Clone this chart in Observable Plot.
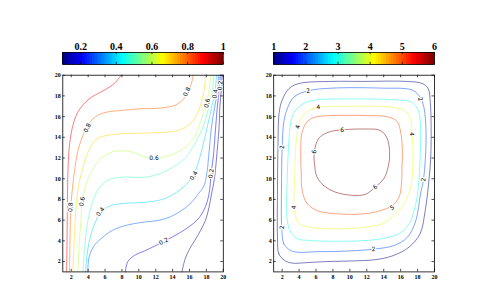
<!DOCTYPE html>
<html><head><meta charset="utf-8">
<script src="https://cdn.jsdelivr.net/npm/d3@7"></script>
<script src="https://cdn.jsdelivr.net/npm/@observablehq/plot@0.6"></script>
<style>
html,body{margin:0;padding:0;background:#fff;}
#wrap{position:relative;width:480px;height:306px;background:#fff;overflow:hidden;}
#wrap svg{position:absolute;top:0;}
</style></head>
<body><div id="wrap"></div>
<script>
// ---------- data ----------
const xTicks = [2,4,6,8,10,12,14,16,18,20];
const yTicks = [2,4,6,8,10,12,14,16,18,20];
const leftBarTicks = [0.2,0.4,0.6,0.8,1];
const rightBarTicks = [1,2,3,4,5,6];
const leftRange = [0.1,1];
const rightRange = [1,6];

const leftLevels = [0.1,0.2,0.3,0.4,0.5,0.6,0.7,0.8,0.9];
const L01 = [[15.1,1],[15.5,2.3],[16.0,3.2],[16.6,4.0],[17.3,5.0],[17.9,6.0],[18.3,7.2],[18.6,8.5],[18.95,10],[19.2,12],[19.5,15],[19.6,17],[19.75,18.5],[19.86,20]];
const L02 = [[8.4,1],[8.7,2.0],[9.5,2.6],[10.8,3.07],[12.95,3.94],[14.9,4.8],[16.0,5.4],[16.9,6.0],[17.6,6.8],[18.1,7.8],[18.4,9.0],[18.55,10.5],[18.8,12],[19.1,15],[19.3,17],[19.5,18.5],[19.66,20]];
const L03 = [[3.96,1],[4.1,2.4],[4.6,3.4],[5.3,4.05],[6.85,5.0],[8.5,5.5],[10.5,5.8],[12.5,6.0],[13.8,6.35],[15.0,6.9],[16.1,7.6],[17.0,8.5],[17.7,9.3],[18.05,10.5],[18.25,12],[18.6,15],[19.0,17],[19.3,18.5],[19.46,20]];
const L04 = [[3.7,1],[3.85,2.5],[4.15,4],[4.7,5.5],[5.45,6.7],[6.5,7.35],[8.0,7.6],[10.2,7.7],[12.0,7.85],[13.4,8.2],[15.3,9.2],[16.5,10.4],[17.2,12],[17.7,13.6],[18.1,15],[18.65,17],[19.0,18.3],[19.2,20]];
const L05 = [[3.4,1],[3.55,3],[3.75,4.6],[4.0,6.1],[4.5,7.7],[5.2,9.0],[6.3,9.85],[8.0,10.15],[10.8,10.15],[12.5,10.5],[14.0,11.1],[15.5,12.0],[16.7,13.5],[17.6,15.0],[18.3,17.0],[18.7,18.6],[18.9,20]];
const L06 = [[2.8,1],[2.9,3],[3.0,4.4],[3.15,6],[3.3,7.8],[3.7,9.3],[4.3,10.5],[4.9,11.4],[5.7,12.1],[6.9,12.6],[8.2,12.7],[9.5,12.5],[10.5,12.15],[11.8,11.95],[13.4,12.2],[15.3,12.9],[16.5,13.9],[17.3,15.5],[17.9,17.1],[18.3,18.4],[18.5,20]];
const L07 = [[2.2,1],[2.35,4],[2.6,7.5],[2.9,9.5],[3.3,10.8],[3.7,12.0],[4.2,12.9],[4.7,13.6],[5.4,14.0],[6.3,14.2],[8.0,14.35],[10.2,14.4],[12.2,14.45],[14.3,14.6],[15.6,15.0],[16.6,15.8],[17.3,17.1],[17.7,18.4],[17.9,20]];
const L08 = [[1.8,1],[1.85,4],[1.95,7.25],[2.2,9.5],[2.4,10.8],[2.75,12.6],[3.3,14.0],[4.0,15.2],[4.9,16.0],[6.0,16.4],[8.1,16.6],[10.2,16.76],[12.2,16.8],[14.3,17.1],[15.3,17.7],[15.9,18.5],[16.3,19.4],[16.4,20]];
const L09 = [[1.45,1],[1.5,4],[1.55,8],[1.6,10.5],[1.72,12.6],[1.95,14.2],[2.35,15.6],[2.9,16.6],[4.1,17.7],[6.0,18.6],[7.1,19.2],[7.9,20]];
const leftLines = [L01,L02,L03,L04,L05,L06,L07,L08,L09];

const leftLabelText = ["0.8","0.8","0.6","0.6","0.4","0.2","0.8","0.6","0.4","0.2","0.4","0.2"];
const leftLabelX    = [3.9, 15.7, 11.8, 18.1, 19.05, 19.65, 1.92, 3.3, 5.46, 12.95, 16.5, 18.56];
const leftLabelY    = [14.9, 18.4, 11.95, 17.3, 18.2, 19.0, 7.25, 7.8, 6.8, 3.94, 10.3, 10.5];
const leftLabelRot  = [-64, -63, 0, -76, -80, -85, -88, -80, -52, -27, -61, -82];

const rightLevels = [1,2,3,4,5,6];
const R1 = [[1.45,4.3],[1.6,2.75],[2.3,2.1],[3.2,1.85],[5,1.9],[7.3,2.0],[10,2.05],[13.2,2.2],[15.2,2.6],[17.0,3.4],[18.3,4.7],[18.9,6.9],[19.3,9.5],[19.55,12],[19.6,15],[19.5,17.4],[19.25,18.7],[18.55,19.2],[16.6,19.4],[11.3,19.4],[7.9,19.4],[4.0,19.2],[2.8,18.7],[2.0,17.6],[1.65,16.4],[1.5,13],[1.45,9]];
const R2 = [[1.95,5.3],[2.2,3.7],[3.0,3.07],[3.8,2.9],[6,2.95],[9.3,3.0],[12.8,3.2],[15.2,3.55],[16.8,4.35],[17.8,5.97],[18.35,8.55],[18.7,9.9],[18.9,11.7],[19.0,13.5],[18.95,15.5],[18.75,16.9],[18.35,17.8],[17.4,18.55],[13.8,18.75],[7.9,18.75],[5.1,18.5],[3.4,17.9],[2.6,16.75],[2.2,15.5],[2.0,13],[1.92,9]];
const R3 = [[2.6,6.0],[3.0,4.84],[3.8,4.2],[5.15,4.04],[9.9,3.97],[13.8,4.2],[15.8,4.7],[17.0,5.65],[17.8,7.6],[18.15,9.8],[18.3,12],[18.35,15.0],[18.15,16.4],[17.4,17.35],[15.8,17.6],[9.9,17.7],[5.9,17.6],[4.4,17.2],[3.4,16.4],[3.0,15.4],[2.75,13],[2.6,10]];
const R4 = [[3.4,7.25],[3.6,6.3],[3.97,5.65],[5.15,5.33],[7.9,5.16],[11.1,5.26],[13.8,5.65],[15.2,6.45],[16.4,7.6],[17.2,9.2],[17.4,10.8],[17.45,12.9],[17.35,14.3],[17.2,15.6],[16.6,16.5],[15.0,16.9],[9.9,17.0],[6.3,16.9],[5.15,16.6],[4.2,15.8],[3.8,14.5],[3.6,12.9],[3.5,10.5]];
const R5 = [[4.36,8.9],[4.95,7.6],[6.3,6.87],[8.7,6.6],[11.5,6.6],[13.4,6.87],[15.0,7.4],[15.8,8.2],[16.1,9.5],[16.15,10.8],[16.2,12.9],[16.0,14.5],[15.6,15.5],[14.6,15.95],[11.85,16.1],[7.9,16.1],[5.9,15.95],[4.95,15.5],[4.36,14.5],[4.2,12.9],[4.25,10.5]];
const R6 = [[6.1,10.2],[6.9,9.35],[8.3,8.7],[10.3,8.4],[11.85,8.5],[13.0,9.2],[14.0,10.0],[14.45,10.9],[14.7,12.25],[14.4,13.9],[13.6,14.66],[11.85,14.8],[9.1,14.72],[7.5,14.5],[6.33,13.9],[5.8,12.6],[5.85,11.2]];
const rightLines = [R1,R2,R3,R4,R5,R6];

const rightLabelText = ["2","2","4","4","4","6","6","2","6","4","5","2","2","2"];
const rightLabelX    = [5.08, 18.3, 6.26, 3.85, 17.3, 9.1, 5.8, 2.0, 13.0, 3.4, 15.0, 1.95, 12.8, 18.7];
const rightLabelY    = [18.5, 17.7, 16.9, 15.0, 14.3, 14.72, 12.6, 13.05, 9.2, 7.25, 7.2, 5.3, 3.2, 9.9];
const rightLabelRot  = [-8, 70, -4, -76, 88, 0, -86, -90, -40, -80, -32, -90, -5, -84];

// ---------- helpers ----------
function jet(t){
  const c = v => Math.max(0, Math.min(1, v));
  const r = c(1.5 - Math.abs(4*t - 3)), g = c(1.5 - Math.abs(4*t - 2)), b = c(1.5 - Math.abs(4*t - 1));
  return `rgb(${Math.round(r*255)},${Math.round(g*255)},${Math.round(b*255)})`;
}
const wrap = document.getElementById("wrap");
const FONT = "Liberation Serif";

function linesTable(levels, lines){
  const rows = [];
  lines.forEach((pts, i) => pts.forEach(([x,y]) => rows.push({x, y, level: levels[i]})));
  return rows;
}
function labelsTable(tx, xs, ys, rs){
  return tx.map((t,i) => ({t, x: xs[i], y: ys[i], r: rs[i]}));
}

function panel(left, ml, mr, levels, lines, labels, range, curve){
  const svg = Plot.plot({
    width: 240, height: 306,
    marginLeft: ml, marginRight: mr, marginTop: 74.7, marginBottom: 34.6,
    x: {domain: [1,20], ticks: xTicks, tickSize: 0, tickPadding: 3, label: null},
    y: {domain: [1,20], ticks: yTicks, tickSize: 0, tickPadding: 2, label: null},
    color: {type: "linear", domain: range, interpolate: jet},
    style: {fontFamily: FONT, fontWeight: "bold", fontSize: "6px", background: "transparent", color: "#000"},
    marks: [
      Plot.line(linesTable(levels, lines), {x: "x", y: "y", z: "level", stroke: "level", strokeWidth: 1, strokeOpacity: 0.5, curve}),
      Plot.text(labels, {x: "x", y: "y", text: "t", rotate: "r", fontSize: 6, fontWeight: "normal", fontFamily: "DejaVu Sans", fill: "black", stroke: "white", strokeWidth: 2.5}),
      Plot.ruleX(xTicks, {x: d => d, y1: 1, y2: 1.25, stroke: "#000", strokeWidth: 0.7}),
      Plot.ruleX(xTicks, {x: d => d, y1: 19.75, y2: 20, stroke: "#000", strokeWidth: 0.7}),
      Plot.ruleY(yTicks, {y: d => d, x1: 1, x2: 1.3, stroke: "#000", strokeWidth: 0.7}),
      Plot.ruleY(yTicks, {y: d => d, x1: 19.7, x2: 20, stroke: "#000", strokeWidth: 0.7}),
      Plot.frame({stroke: "#000", strokeWidth: 0.8})
    ]
  });
  svg.style.left = left + "px";
  wrap.appendChild(svg);
}

function colorbar(left, ml, mr, range, ticks, fmt){
  const n = 64;
  const bands = d3.range(n).map(i => ({
    a: range[0] + (range[1]-range[0]) * i / n,
    b: range[0] + (range[1]-range[0]) * (i+1) / n,
    v: range[0] + (range[1]-range[0]) * (i+0.5) / n
  }));
  const svg = Plot.plot({
    width: 240, height: 70,
    marginLeft: ml, marginRight: mr, marginTop: 52, marginBottom: 6,
    x: {domain: range, ticks, tickFormat: fmt, axis: "top", tickSize: 0, tickPadding: 2.5, label: null},
    y: {domain: [0,1], axis: null},
    color: {type: "linear", domain: range, interpolate: jet},
    style: {fontFamily: FONT, fontWeight: "bold", fontSize: "10px", background: "transparent", color: "#000"},
    marks: [
      Plot.rect(bands, {x1: "a", x2: "b", y1: 0, y2: 1, fill: "v", stroke: "v", strokeWidth: 0.5, shapeRendering: "crispEdges"}),
      Plot.ruleX(ticks, {x: d => d, y1: 0, y2: 0.18, stroke: "#000", strokeWidth: 0.7}),
      Plot.ruleX(ticks, {x: d => d, y1: 0.82, y2: 1, stroke: "#000", strokeWidth: 0.7}),
      Plot.frame({stroke: "#000", strokeWidth: 0.8})
    ]
  });
  svg.style.left = left + "px";
  wrap.appendChild(svg);
}

panel(0, 62.3, 17.2, leftLevels, leftLines, labelsTable(leftLabelText, leftLabelX, leftLabelY, leftLabelRot), leftRange, "catmull-rom");
panel(240, 33.2, 46, rightLevels, rightLines, labelsTable(rightLabelText, rightLabelX, rightLabelY, rightLabelRot), rightRange, "catmull-rom-closed");
colorbar(0, 62.3, 17.2, leftRange, leftBarTicks, d => d === 1 ? "1" : d3.format(".1f")(d));
colorbar(240, 33.2, 46, rightRange, rightBarTicks, d => String(d));
</script>
</body></html>
